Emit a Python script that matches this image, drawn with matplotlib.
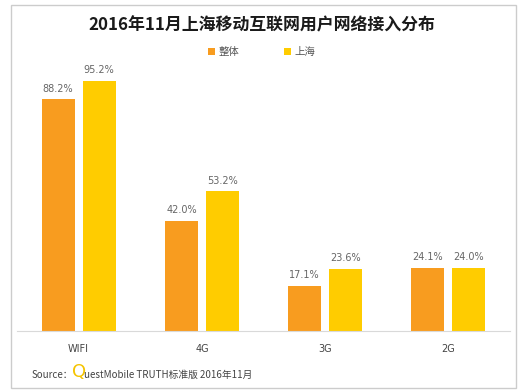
import matplotlib
matplotlib.use("Agg")
import matplotlib.pyplot as plt
from matplotlib.patches import Rectangle
import numpy as np

plt.rcParams['font.family'] = ['Noto Sans CJK SC', 'DejaVu Sans']

categories = ["WIFI", "4G", "3G", "2G"]
overall = [88.2, 42.0, 17.1, 24.1]
shanghai = [95.2, 53.2, 23.6, 24.0]
series_names = ["整体", "上海"]
title = "2016年11月上海移动互联网用户网络接入分布"

C_ORANGE = "#F89C1F"
C_YELLOW = "#FFCC00"
TXT = "#555555"

W, H = 523, 390
fig = plt.figure(figsize=(W / 100, H / 100), dpi=100)

# outer frame
fig.patches.append(Rectangle((11 / W, 2 / H), 505 / W, 383 / H, transform=fig.transFigure,
                             fill=False, edgecolor="#cccccc", lw=1.0))

ax = fig.add_axes([17 / W, (H - 331) / H, 493 / W, 262.6 / H])
x = np.arange(len(categories))
bw = 0.268
off = 0.166
b1 = ax.bar(x - off, overall, bw, color=C_ORANGE, label=series_names[0])
b2 = ax.bar(x + off, shanghai, bw, color=C_YELLOW, label=series_names[1])
for bars, vals in ((b1, overall), (b2, shanghai)):
    for b, v in zip(bars, vals):
        ax.text(b.get_x() + b.get_width() / 2, v + 2.2, f"{v:.1f}%", ha="center", va="bottom",
                fontsize=7, color="#666666", family="DejaVu Sans")

ax.set_xlim(-0.5, 3.5)
ax.set_ylim(0, 100)
ax.set_xticks(x)
ax.set_xticklabels(categories, fontsize=7, color="#444444", family="DejaVu Sans")
ax.tick_params(axis="x", length=0, pad=9)
ax.set_yticks([])
for s in ("top", "right", "left"):
    ax.spines[s].set_visible(False)
ax.spines["bottom"].set_color("#d9d9d9")

fig.text(0.5, 1 - 25 / H, title, ha="center", va="center", fontsize=12.2, fontweight="bold",
         color="#1a1a1a")

leg = fig.legend(handles=[b1, b2], labels=series_names, loc="center", bbox_to_anchor=(0.5, 1 - 52 / H),
                 ncol=2, frameon=False, fontsize=7.5, handlelength=0.7, handleheight=0.7,
                 handletextpad=0.3, columnspacing=4.3)
for t in leg.get_texts():
    t.set_color(TXT)

fig.text(32 / W, 1 - 375 / H, "Source：", ha="left", va="center", fontsize=7, color="#444444")
fig.text(72 / W, 1 - 372 / H, "Q", ha="left", va="center", fontsize=13, color="#F5C400",
         family="DejaVu Sans")
fig.text(84 / W, 1 - 375 / H, "uestMobile TRUTH标准版 2016年11月", ha="left", va="center",
         fontsize=7, color="#444444")

fig.savefig("out.png", dpi=100)
